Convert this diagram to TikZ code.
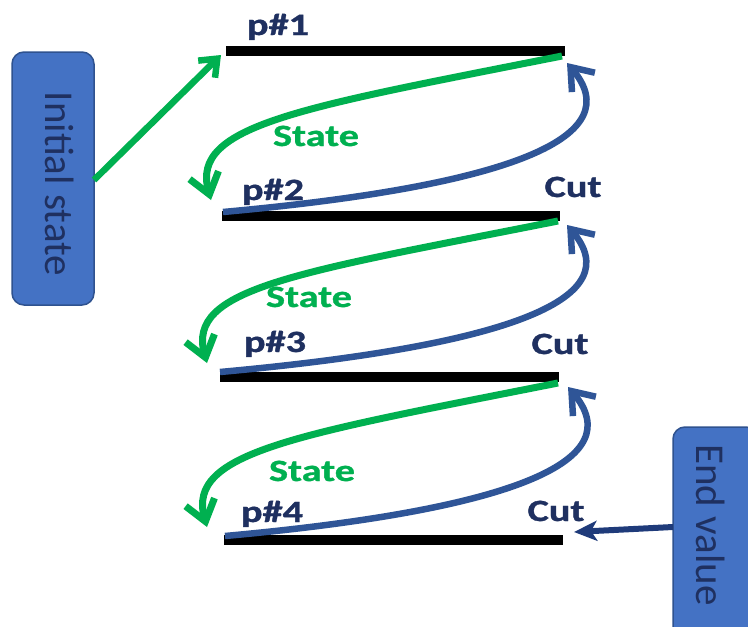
\documentclass[tikz,border=0pt]{standalone}
\usepackage{fontspec}
\setmainfont{Carlito}
\newfontfamily\lblfont{Carlito}[BoldFeatures={FakeBold=0.9}]
\usetikzlibrary{arrows.meta}
\definecolor{ogreen}{HTML}{00B050}
\definecolor{oblue}{HTML}{2F5597}
\definecolor{onavy}{HTML}{1F3060}
\definecolor{endnavy}{HTML}{1F3B7A}
\definecolor{boxfill}{HTML}{4472C4}
\definecolor{boxline}{HTML}{2F528F}
\begin{document}
\begin{tikzpicture}[x=1pt,y=-1pt,
  lvl/.style={line width=10pt, draw=black},
  lbl/.style={anchor=base, inner sep=0pt, text=onavy, font=\fontsize{31}{31}\lblfont\bfseries},
  glbl/.style={lbl, text=ogreen},
  stateArrow/.style={draw=ogreen, line width=7pt, -{Straight Barb[length=20pt,width=30pt]}},
  cutArrow/.style={draw=oblue, line width=6.5pt, -{Straight Barb[length=20pt,width=30pt]}},
  infobox/.style={draw=boxline, fill=boxfill, line width=1.5pt, rounded corners=12pt},
  boxtext/.style={rotate=-90, inner sep=0pt, text=onavy, font=\fontsize{41}{41}\selectfont}]
\clip (0,0) rectangle (748,627);
\fill[white] (0,0) rectangle (748,627);

% boxes
\draw[infobox] (12,52) rectangle (94,305);
\node[boxtext] (init) at (60,184) {Initial state};
\coordinate (initR) at (94,180);
\draw[infobox] (673,427) rectangle (758,640);
\node[boxtext] (endv) at (711,525) {End value};
\coordinate (endL) at (673,527);

% level lines
\coordinate (L1a) at (226,51); \coordinate (L1b) at (565,51);
\coordinate (L2a) at (222,216); \coordinate (L2b) at (560,216);
\coordinate (L3a) at (220,377); \coordinate (L3b) at (559,377);
\coordinate (L4a) at (224,540); \coordinate (L4b) at (563,540);
\draw[lvl] (L1a) -- (L1b);
\draw[lvl] (L2a) -- (L2b);
\draw[lvl] (L3a) -- (L3b);
\draw[lvl] (L4a) -- (L4b);

% labels
\node[lbl] (p1) at (278,35) {\scalebox{1.3}[1]{p\#1}};
\node[lbl] (p2) at (273,200) {\scalebox{1.3}[1]{p\#2}};
\node[lbl] (p3) at (275,352) {\scalebox{1.3}[1]{p\#3}};
\node[lbl] (p4) at (272,522) {\scalebox{1.3}[1]{p\#4}};
\node[glbl] (s1) at (316,146) {\scalebox{1.3}[1]{State}};
\node[glbl] (s2) at (309,307) {\scalebox{1.3}[1]{State}};
\node[glbl] (s3) at (312,481) {\scalebox{1.3}[1]{State}};
\node[lbl] (c1) at (573,197) {\scalebox{1.3}[1]{Cut}};
\node[lbl] (c2) at (560,354) {\scalebox{1.3}[1]{Cut}};
\node[lbl] (c3) at (556,521) {\scalebox{1.3}[1]{Cut}};

% state arrows (green)
\coordinate (g1s) at (562,56); \coordinate (g1e) at (211,200);
\coordinate (g2s) at (558,221); \coordinate (g2e) at (207,363);
\coordinate (g3s) at (558,383); \coordinate (g3e) at (207,527);
\draw[stateArrow] (g1s) .. controls (300,108) and (190,125) .. (g1e);
\draw[stateArrow] (g2s) .. controls (296,273) and (186,288) .. (g2e);
\draw[stateArrow] (g3s) .. controls (296,435) and (186,452) .. (g3e);

% cut arrows (blue)
\coordinate (b1s) at (223,212); \coordinate (b1e) at (567,63);
\coordinate (b2s) at (220,372); \coordinate (b2e) at (567,225);
\coordinate (b3s) at (225,536); \coordinate (b3e) at (568,387);
\draw[cutArrow] (b1s) .. controls (520,185) and (628,135) .. (b1e);
\draw[cutArrow] (b2s) .. controls (517,345) and (628,297) .. (b2e);
\draw[cutArrow] (b3s) .. controls (522,509) and (629,459) .. (b3e);

% initial / end arrows
\coordinate (p1in) at (221,55);
\draw[draw=ogreen, line width=6.5pt, -{Straight Barb[length=15pt,width=24pt]}] (initR) -- (p1in);
\coordinate (c3in) at (574,532);
\draw[draw=endnavy, line width=6pt, -{Stealth[length=23pt,width=20pt,inset=6pt]}] (endL) -- (c3in);
\end{tikzpicture}
\end{document}
